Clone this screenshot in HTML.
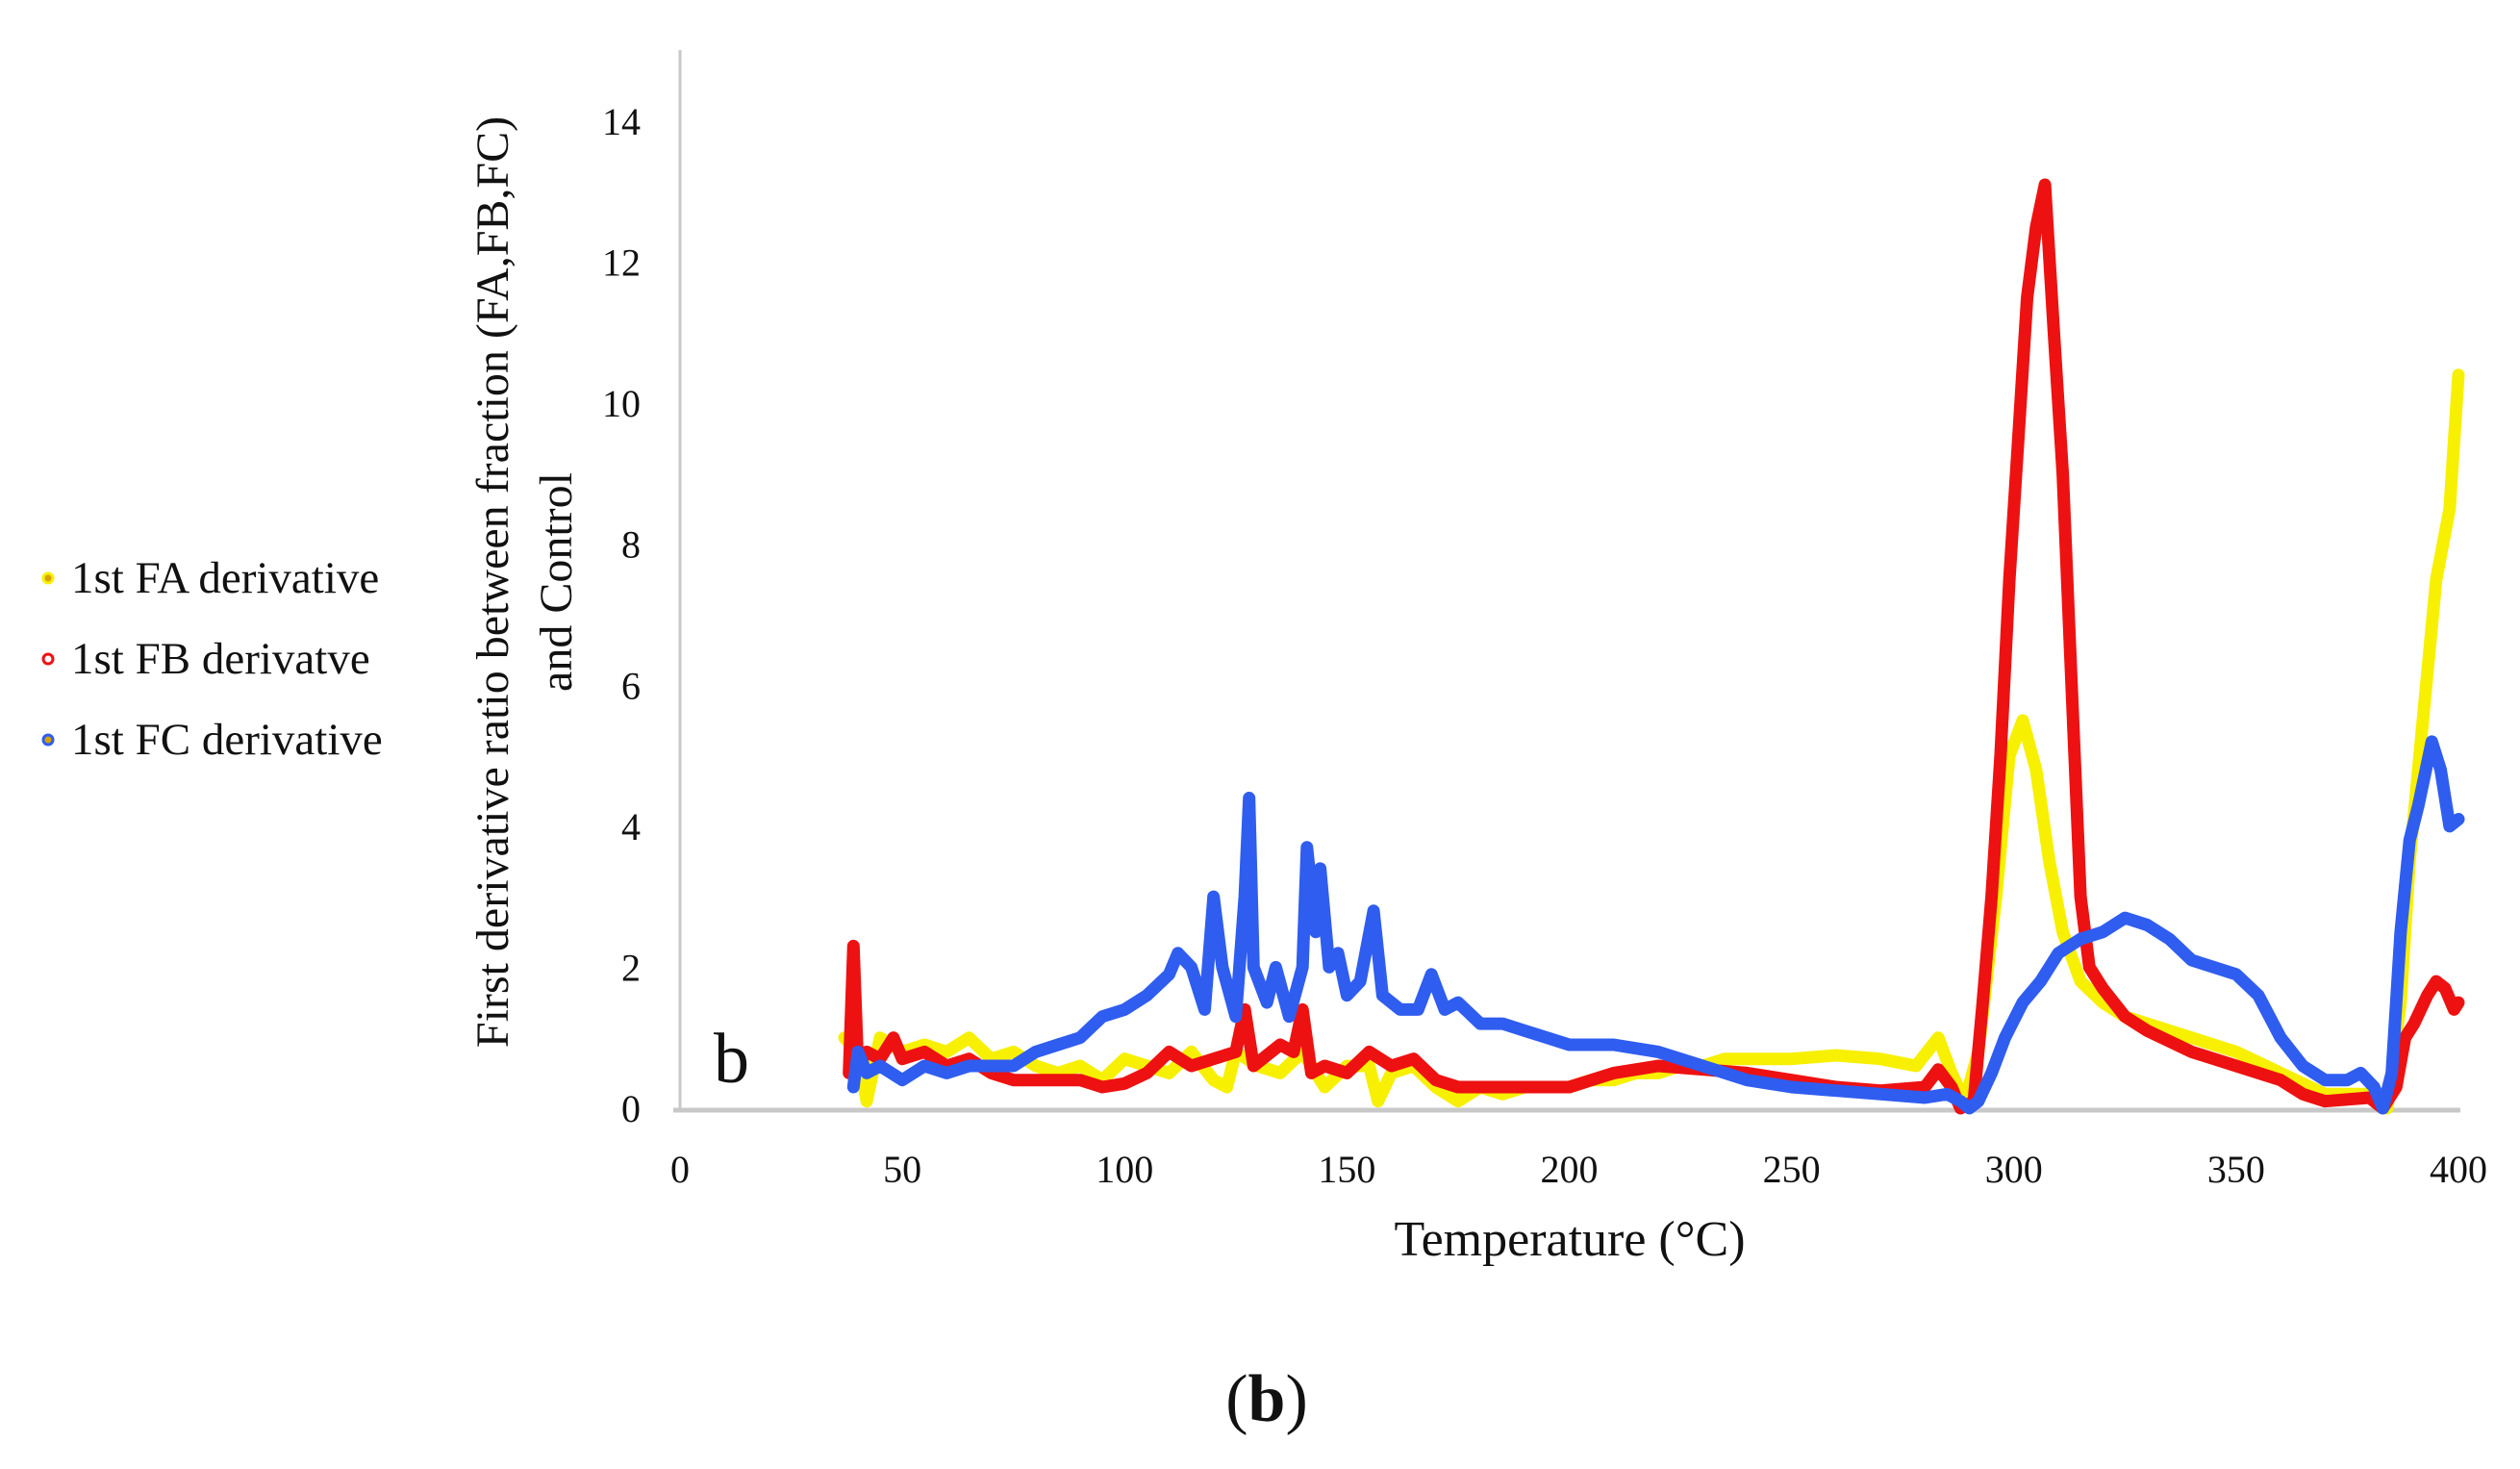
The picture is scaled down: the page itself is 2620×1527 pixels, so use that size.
<!DOCTYPE html>
<html><head><meta charset="utf-8"><style>
html,body{margin:0;padding:0;background:#fff;}
svg text{font-family:"Liberation Serif",serif;fill:#111;}
</style></head><body>
<svg id="chart" width="2620" height="1522" viewBox="0 0 2620 1522" xmlns="http://www.w3.org/2000/svg">
<line x1="707" y1="52" x2="707" y2="1154" stroke="#c8c8c8" stroke-width="3"/>
<line x1="700" y1="1154" x2="2558" y2="1154" stroke="#c8c8c8" stroke-width="5"/>
<g id="yticks"></g>
<g id="xticks"></g>
<g id="series"></g>
<text x="742" y="1125" font-size="74">b</text>
<text x="1632" y="1305" font-size="52" text-anchor="middle">Temperature (°C)</text>
<g transform="translate(512,605) rotate(-90)">
<text x="0" y="16" font-size="48" text-anchor="middle">First derivative ratio between fraction (FA,FB,FC)</text>
<text x="0" y="82" font-size="48" text-anchor="middle">and Control</text>
</g>
<g>
<g><circle cx="50" cy="601" r="5" fill="#d8a000" stroke="#f5f000" stroke-width="3"/><text x="74" y="616" font-size="47">1st FA derivative</text></g>
<g><circle cx="50" cy="685" r="5" fill="#fff" stroke="#ee1111" stroke-width="3"/><text x="74" y="700" font-size="47">1st FB derivatve</text></g>
<g><circle cx="50" cy="769" r="5" fill="#d8a000" stroke="#2f5df0" stroke-width="3"/><text x="74" y="784" font-size="47">1st FC derivative</text></g>
</g>
<text x="1317" y="1477" font-size="70" text-anchor="middle">(<tspan font-weight="bold">b</tspan>)</text>
</svg>
<script>
const yTicks=[0,2,4,6,8,10,12,14];
const xTicks=[0,50,100,150,200,250,300,350,400];
const faX=[37,40,42,45,50,55,60,65,70,75,80,85,90,95,100,105,110,115,120,123,125,130,135,140,145,150,155,157,160,165,170,175,180,185,190,195,200,205,210,215,220,225,230,235,240,250,260,270,278,283,286,289,292,296,299,302,305,308,311,315,320,325,330,340,350,360,370,380,384,387,389,392,395,398,400];
const faY=[1.0,0.8,0.1,1.0,0.8,0.9,0.8,1.0,0.7,0.8,0.6,0.5,0.6,0.4,0.7,0.6,0.5,0.8,0.4,0.3,0.8,0.6,0.5,0.8,0.3,0.6,0.6,0.1,0.5,0.6,0.3,0.1,0.3,0.2,0.3,0.3,0.3,0.4,0.4,0.5,0.5,0.6,0.6,0.7,0.7,0.7,0.75,0.7,0.6,1.0,0.5,0.1,0.8,3.0,5.0,5.5,4.8,3.5,2.5,1.8,1.5,1.3,1.2,1.0,0.8,0.5,0.2,0.2,0.0,1.5,3.5,5.5,7.5,8.5,10.4];
const fbX=[38,39,40,42,45,48,50,55,60,65,70,75,80,90,95,100,105,110,115,120,125,127,129,135,138,140,142,145,150,155,160,165,170,175,180,190,200,205,210,220,230,240,250,260,270,280,283,286,288,291,293,295,297,299,301,303,305,307,309,311,313,315,317,320,325,330,340,350,360,365,370,380,383,386,388,390,393,395,397,399,400];
const fbY=[0.5,2.3,0.6,0.8,0.7,1.0,0.7,0.8,0.6,0.7,0.5,0.4,0.4,0.4,0.3,0.35,0.5,0.8,0.6,0.7,0.8,1.4,0.6,0.9,0.8,1.4,0.5,0.6,0.5,0.8,0.6,0.7,0.4,0.3,0.3,0.3,0.3,0.4,0.5,0.6,0.55,0.5,0.4,0.3,0.25,0.3,0.55,0.3,0.0,0.1,1.5,3.0,5.0,7.5,9.5,11.5,12.5,13.1,11.0,9.0,6.0,3.0,2.0,1.7,1.3,1.1,0.8,0.6,0.4,0.2,0.1,0.15,0.0,0.3,1.0,1.2,1.6,1.8,1.7,1.4,1.5];
const fcX=[39,40,42,45,50,55,60,65,70,75,80,85,90,95,100,105,110,112,115,118,120,122,125,127,128,129,132,134,137,140,141,143,144,146,148,150,153,156,158,162,166,169,172,175,180,185,190,195,200,210,220,230,240,250,260,270,280,285,288,290,292,295,298,302,306,310,315,320,325,330,335,340,345,350,355,360,365,370,375,378,381,383,385,387,389,391,394,396,398,400];
const fcY=[0.3,0.8,0.5,0.6,0.4,0.6,0.5,0.6,0.6,0.6,0.8,0.9,1.0,1.3,1.4,1.6,1.9,2.2,2.0,1.4,3.0,2.0,1.3,3.0,4.4,2.0,1.5,2.0,1.3,2.0,3.7,2.5,3.4,2.0,2.2,1.6,1.8,2.8,1.6,1.4,1.4,1.9,1.4,1.5,1.2,1.2,1.1,1.0,0.9,0.9,0.8,0.6,0.4,0.3,0.25,0.2,0.15,0.2,0.1,0.0,0.1,0.5,1.0,1.5,1.8,2.2,2.4,2.5,2.7,2.6,2.4,2.1,2.0,1.9,1.6,1.0,0.6,0.4,0.4,0.5,0.3,0.0,0.5,2.5,3.8,4.3,5.2,4.8,4.0,4.1];

const X0=707,X1=2556,Y0=1152,Y14=126;
function xs(v){return X0+(v/400)*(X1-X0);}
function ys(v){return Y0-(v/14)*(Y0-Y14);}
const NS="http://www.w3.org/2000/svg";
const yg=document.getElementById('yticks');
yTicks.forEach(t=>{
  const el=document.createElementNS(NS,'text');
  
  
  el.setAttribute('x',666);el.setAttribute('y',ys(t)+14);
  el.setAttribute('font-size','40');el.setAttribute('text-anchor','end');
  el.textContent=t;yg.appendChild(el);
});
const xg=document.getElementById('xticks');
xTicks.forEach(t=>{
  const el=document.createElementNS(NS,'text');
  
  
  el.setAttribute('x',xs(t));el.setAttribute('y',1229);
  el.setAttribute('font-size','40');el.setAttribute('text-anchor','middle');
  el.textContent=t;xg.appendChild(el);
});
const sg=document.getElementById('series');
function draw(xa,ya,color,name,w){
  const pts=xa.map((x,i)=>xs(x).toFixed(1)+','+ys(ya[i]).toFixed(1)).join(' ');
  const pl=document.createElementNS(NS,'polyline');
  
  
  pl.setAttribute('points',pts);pl.setAttribute('fill','none');
  pl.setAttribute('stroke',color);pl.setAttribute('stroke-width',w);
  pl.setAttribute('stroke-linejoin','round');pl.setAttribute('stroke-linecap','round');
  sg.appendChild(pl);
}
draw(faX,faY,'#f7f000','series-fa',13);
draw(fbX,fbY,'#ee1111','series-fb',13);
draw(fcX,fcY,'#2f5df0','series-fc',13);
</script>
</body></html>
